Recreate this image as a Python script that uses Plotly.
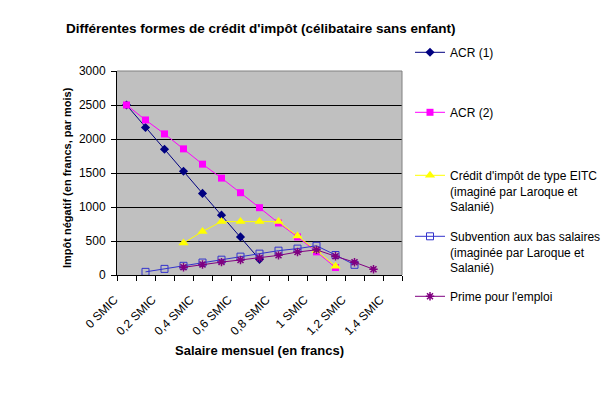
import plotly.graph_objects as go

categories = list(range(15))
tick_positions = [0, 2, 4, 6, 8, 10, 12, 14]
tick_labels = ["0 SMIC", "0,2 SMIC", "0,4 SMIC", "0,6 SMIC", "0,8 SMIC", "1 SMIC", "1,2 SMIC", "1,4 SMIC"]

acr1 = [2500, 2170, 1850, 1525, 1200, 880, 560, 230, None, None, None, None, None, None, None]
acr2 = [2500, 2280, 2075, 1855, 1630, 1425, 1210, 990, 765, 560, 340, 110, None, None, None]
eitc = [None, None, None, 470, 640, 785, 785, 785, 785, 575, 360, 130, None, None, None]
subv = [None, 46, 90, 135, 183, 225, 270, 314, 358, 388, 430, 294, 150, None, None]
prime = [None, None, None, 113, 155, 190, 221, 250, 289, 338, 370, 275, 188, 85, None]

FONT = "Liberation Sans, Arial, sans-serif"

series = [
    ("ACR (1)", acr1, "#000080", dict(symbol="diamond", size=7, color="#000080"), "legend"),
    ("ACR (2)", acr2, "#FF00FF", dict(symbol="square", size=7, color="#FF00FF"), "legend2"),
    ("Crédit d'impôt de type EITC<br>(imaginé par Laroque et<br>Salanié)", eitc, "#FFFF00",
     dict(symbol="triangle-up", size=9, color="#FFFF00"), "legend3"),
    ("Subvention aux bas salaires<br>(imaginée par Laroque et<br>Salanié)", subv, "#3333CC",
     dict(symbol="square-open", size=7, color="#3333CC", line=dict(width=1, color="#3333CC")), "legend4"),
    ("Prime pour l'emploi", prime, "#800080",
     dict(symbol="asterisk", size=7, color="#800080", line=dict(width=1.5, color="#800080")), "legend5"),
]

fig = go.Figure()
for name, vals, col, mk, lg in series:
    fig.add_trace(go.Scatter(
        x=categories, y=vals, name=name, mode="lines+markers",
        line=dict(color=col, width=1), marker=mk, legend=lg, connectgaps=False,
    ))

# page body has an 8px margin; figure is drawn from (8, 8) in the window
OFF = 8
FW, FH = 612 - OFF, 398 - OFF
plot_l, plot_r, plot_t, plot_b = 117 - OFF, 402 - OFF, 71 - OFF, 275 - OFF
W = plot_r - plot_l
H = plot_b - plot_t
leg_x = (410 - OFF - plot_l) / W
leg_tops = [38, 98, 161, 222, 282]
legs = {}
for i, top in enumerate(leg_tops):
    key = "legend" if i == 0 else f"legend{i+1}"
    legs[key] = dict(
        x=leg_x, xanchor="left", y=(plot_b - (top - OFF)) / H, yanchor="top",
        bgcolor="rgba(0,0,0,0)", borderwidth=0, valign="top",
        font=dict(family=FONT, size=12, color="black"),
    )

fig.update_layout(
    width=FW, height=FH,
    margin=dict(l=plot_l, r=FW - plot_r, t=plot_t, b=FH - plot_b, autoexpand=False),
    paper_bgcolor="white", plot_bgcolor="#C0C0C0",
    font=dict(family=FONT, size=12, color="black"),
    showlegend=True,
    **legs,
)

fig.update_xaxes(
    range=[-0.5, 14.5], tickmode="array", tickvals=tick_positions, ticktext=tick_labels,
    tickangle=-45, ticks="", ticklabelstandoff=12, ticklabelshift=-12,
    showgrid=False, zeroline=False,
    showline=True, linecolor="black", linewidth=1, automargin=False,
    minor=dict(ticks="outside", tick0=-0.5, dtick=1, ticklen=5, tickcolor="black", showgrid=False),
    tickfont=dict(family=FONT, size=12, color="black"),
)
fig.update_yaxes(
    range=[0, 3000], dtick=500, tick0=0, ticks="outside", ticklen=5, tickcolor="black",
    showgrid=True, gridcolor="black", gridwidth=1, zeroline=False,
    showline=True, linecolor="black", linewidth=1, automargin=False, ticklabelstandoff=3,
    tickfont=dict(family=FONT, size=12, color="black"),
)

fig.add_annotation(text="<b>Différentes formes de crédit d'impôt (célibataire sans enfant)</b>",
                   xref="paper", yref="paper",
                   x=(261 - OFF - plot_l) / W, y=(plot_b - (28 - OFF)) / H,
                   xanchor="center", yanchor="middle",
                   showarrow=False, font=dict(family=FONT, size=13.5, color="black"))
fig.add_annotation(text="<b>Salaire mensuel (en francs)</b>", xref="paper", yref="paper",
                   x=(259 - OFF - plot_l) / W, y=(plot_b - (350 - OFF)) / H,
                   xanchor="center", yanchor="middle",
                   showarrow=False, font=dict(family=FONT, size=13, color="black"))
fig.add_annotation(text="<b>Impôt négatif (en francs, par mois)</b>", xref="paper", yref="paper",
                   x=(67 - OFF - plot_l) / W, y=(plot_b - (178 - OFF)) / H,
                   xanchor="center", yanchor="middle",
                   textangle=-90, showarrow=False, font=dict(family=FONT, size=11, color="black"))

fig.add_shape(type="line", xref="paper", yref="paper", x0=0, x1=1, y0=1, y1=1,
              line=dict(color="#808080", width=1), layer="above")
fig.add_shape(type="line", xref="paper", yref="paper", x0=1, x1=1, y0=0, y1=1,
              line=dict(color="#808080", width=1), layer="above")

fig.write_html("out.html")
